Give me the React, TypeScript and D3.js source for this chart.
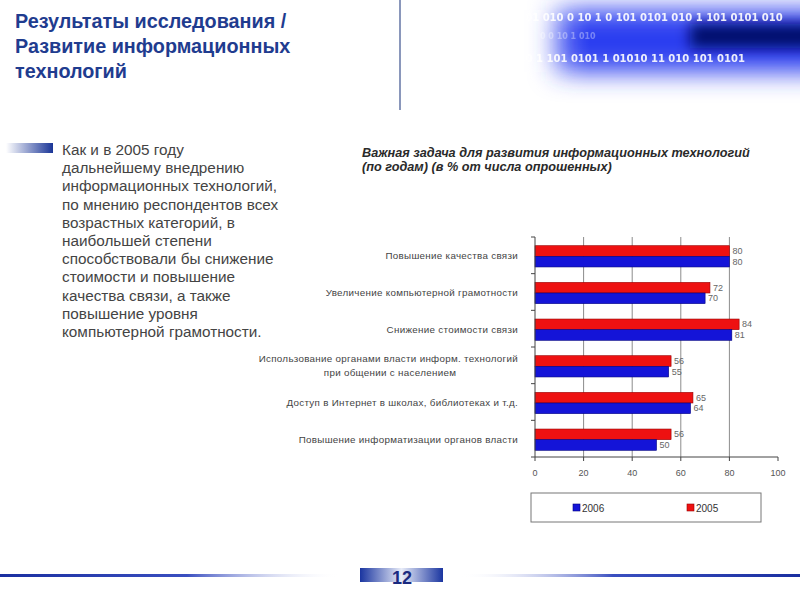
import React from "react";
import * as d3 from "d3";

const titleLines = ["Результаты исследования /", "Развитие информационных", "технологий"];
const bodyLines = [
  "Как и в 2005 году",
  "дальнейшему внедрению",
  "информационных технологий,",
  "по мнению респондентов всех",
  "возрастных категорий, в",
  "наибольшей степени",
  "способствовали бы снижение",
  "стоимости и повышение",
  "качества связи, а также",
  "повышение уровня",
  "компьютерной грамотности.",
];
const chartTitle = [
  "Важная задача для развития информационных технологий",
  "(по годам) (в % от числа опрошенных)",
];
const categories = [
  "Повышение качества связи",
  "Увеличение компьютерной грамотности",
  "Снижение стоимости связи",
  "Использование органами власти информ. технологий\nпри общении с населением",
  "Доступ в Интернет в школах, библиотеках и т.д.",
  "Повышение информатизации органов власти",
];
const values2005 = [80, 72, 84, 56, 65, 56];
const values2006 = [80, 70, 81, 55, 64, 50];
const xTicks = [0, 20, 40, 60, 80, 100];
const seriesNames = ["2005", "2006"];
const legendOrder = ["2006", "2005"];
const binaryRows = [
  "1101 0101 010 0 10 1 0 101 0101 010 1 101 0101 010",
  "0  0  10          1 010",
  "1 0101 010 1 101 0101 1 01010 11 010 101 0101",
];
const pageNumber = "12";

const RED = "#ee1111";
const BLUE = "#1414d8";
const colors: Record<string, string> = { "2005": RED, "2006": BLUE };
const strokes: Record<string, string> = { "2005": "#990000", "2006": "#000080" };

export default function App() {
  const x = d3.scaleLinear().domain([0, 100]).range([535, 778]);
  const y = d3.scaleBand<string>().domain(categories).range([237, 457]).paddingInner(0.42).paddingOuter(0.21);
  const ySub = d3.scaleBand<string>().domain(seriesNames).range([0, y.bandwidth()]);
  const step = y.step();
  const font = "'Liberation Sans', Arial, sans-serif";
  const seriesVals: Record<string, number[]> = { "2005": values2005, "2006": values2006 };

  return (
    <svg width={800} height={600} style={{ position: "absolute", left: 0, top: 0, background: "#fff" }} fontFamily={font}>
      <defs>
        <filter id="blur" x="-50%" y="-100%" width="200%" height="300%">
          <feGaussianBlur stdDeviation="13" />
        </filter>
        <filter id="blur2" x="-50%" y="-100%" width="200%" height="300%">
          <feGaussianBlur stdDeviation="7" />
        </filter>
        <linearGradient id="bullet" x1="0" x2="1" y1="0" y2="0">
          <stop offset="0" stopColor="#ffffff" />
          <stop offset="1" stopColor="#1a3597" />
        </linearGradient>
        <linearGradient id="footL" x1="0" x2="1" y1="0" y2="0">
          <stop offset="0" stopColor="#1a2fa0" />
          <stop offset="0.55" stopColor="#3a4fc0" />
          <stop offset="1" stopColor="#ffffff" stopOpacity="0" />
        </linearGradient>
        <linearGradient id="footR" x1="0" x2="1" y1="0" y2="0">
          <stop offset="0" stopColor="#ffffff" stopOpacity="0" />
          <stop offset="0.45" stopColor="#3a4fc0" />
          <stop offset="1" stopColor="#1a2fa0" />
        </linearGradient>
        <linearGradient id="pageBox" x1="0" x2="1" y1="0" y2="0">
          <stop offset="0" stopColor="#1a35a0" />
          <stop offset="0.5" stopColor="#e8ecf8" />
          <stop offset="1" stopColor="#1a35a0" />
        </linearGradient>
        <linearGradient id="fadeL" x1="0" x2="1" y1="0" y2="0">
          <stop offset="0" stopColor="#ffffff" stopOpacity="1" />
          <stop offset="1" stopColor="#ffffff" stopOpacity="0" />
        </linearGradient>
      </defs>

      {/* top banner */}
      <rect x={555} y={10} width={290} height={62} fill="#2a3cf0" filter="url(#blur)" />
      <rect x={690} y={24} width={140} height={24} fill="#000a6a" filter="url(#blur2)" />
      <g fill="#ffffff" fontWeight="bold" fontFamily="'DejaVu Sans', sans-serif">
        <text x={480} y={21} fontSize={10} opacity={0.9}>{binaryRows[0]}</text>
        <text x={540} y={39} fontSize={8} opacity={0.35}>{binaryRows[1]}</text>
        <text x={470} y={62} fontSize={10} opacity={0.9}>{binaryRows[2]}</text>
      </g>
      <rect x={410} y={0} width={180} height={100} fill="url(#fadeL)" />
      <line x1={400} y1={0} x2={400} y2={110} stroke="#8a97bb" strokeWidth={2} />

      {/* title */}
      {titleLines.map((t, i) => (
        <text key={i} x={15} y={28 + i * 25} fontSize={19.8} fontWeight="bold" fill="#1f3c8f">{t}</text>
      ))}

      {/* bullet + body */}
      <rect x={6} y={143} width={47} height={10} fill="url(#bullet)" />
      {bodyLines.map((t, i) => (
        <text key={i} x={62} y={155 + i * 18.2} fontSize={15.3} fill="#444">{t}</text>
      ))}

      {/* chart title */}
      {chartTitle.map((t, i) => (
        <text key={i} x={362} y={157 + i * 14} fontSize={12.7} fontWeight="bold" fontStyle="italic" fill="#2a2a2a">{t}</text>
      ))}

      {/* grid lines */}
      {xTicks.filter((t) => t > 0 && t < 100).map((t) => (
        <line key={t} x1={x(t)} x2={x(t)} y1={237} y2={457} stroke="#8c8c8c" strokeWidth={1} />
      ))}

      {/* bars */}
      {categories.map((c, ci) => (
        <g key={c} transform={`translate(0,${(y(c) ?? 0) + 1})`}>
          {seriesNames.map((s) => {
            const v = seriesVals[s][ci];
            const by = ySub(s) ?? 0;
            return (
              <g key={s}>
                <rect x={x(0)} y={by} width={x(v) - x(0)} height={ySub.bandwidth()} fill={colors[s]} stroke={strokes[s]} strokeWidth={0.6} />
                <text x={x(v) + 3} y={by + ySub.bandwidth() / 2 + 3} fontSize={9} fill="#666">{v}</text>
              </g>
            );
          })}
        </g>
      ))}

      {/* axes */}
      <line x1={535} x2={535} y1={237} y2={457} stroke="#444" strokeWidth={1} />
      <line x1={535} x2={778} y1={457} y2={457} stroke="#444" strokeWidth={1} />
      {d3.range(categories.length + 1).map((k) => (
        <line key={k} x1={531} x2={535} y1={237 + k * step} y2={237 + k * step} stroke="#444" />
      ))}
      {xTicks.map((t) => (
        <g key={t}>
          <line x1={x(t)} x2={x(t)} y1={457} y2={461} stroke="#444" />
          <text x={x(t)} y={476} fontSize={9} fill="#555" textAnchor="middle">{t}</text>
        </g>
      ))}

      {/* category labels */}
      {categories.map((c) => {
        const lines = c.split("\n");
        const cy = (y(c) ?? 0) + y.bandwidth() / 2 + 1;
        if (lines.length === 1) {
          return (
            <text key={c} x={518} y={cy + 3} fontSize={9.8} letterSpacing={0.3} fill="#444" textAnchor="end">{c}</text>
          );
        }
        return (
          <g key={c}>
            <text x={518} y={cy - 4} fontSize={9.8} letterSpacing={0.3} fill="#444" textAnchor="end">{lines[0]}</text>
            <text x={390} y={cy + 10} fontSize={9.8} letterSpacing={0.3} fill="#444" textAnchor="middle">{lines[1]}</text>
          </g>
        );
      })}

      {/* legend */}
      <rect x={531} y={493} width={230} height={29} fill="#fff" stroke="#777" strokeWidth={1} />
      {legendOrder.map((s, i) => (
        <g key={s} transform={`translate(${573 + i * 114},504)`}>
          <rect x={0} y={0} width={7} height={7} fill={colors[s]} stroke={strokes[s]} strokeWidth={0.6} />
          <text x={9} y={7.5} fontSize={10} fill="#333">{s}</text>
        </g>
      ))}

      {/* footer */}
      <rect x={0} y={574} width={340} height={3} fill="url(#footL)" />
      <rect x={460} y={574} width={340} height={3} fill="url(#footR)" />
      <rect x={360} y={568} width={83} height={14} fill="url(#pageBox)" />
      <text x={402} y={584} fontSize={18} fontWeight="bold" fill="#1a2a80" textAnchor="middle">{pageNumber}</text>
    </svg>
  );
}
